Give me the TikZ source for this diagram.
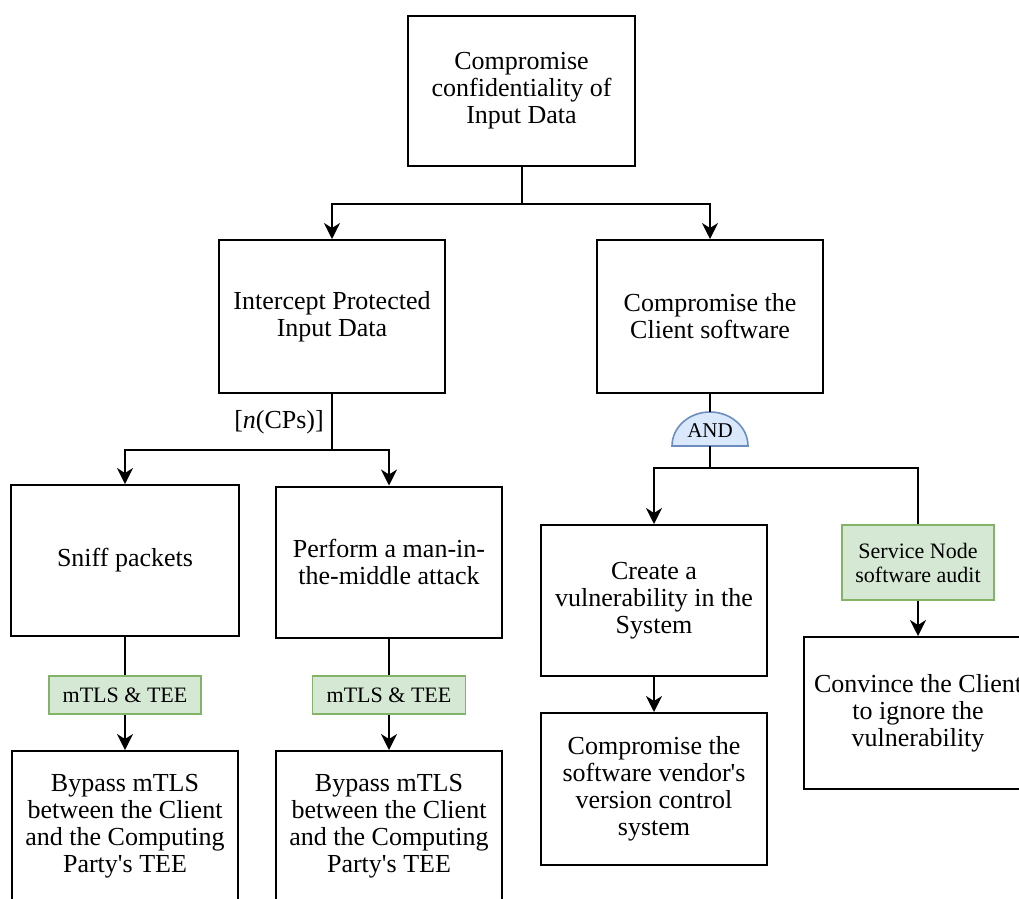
\documentclass[tikz,border=0pt]{standalone}
\usepackage{fontspec}
\setmainfont{Liberation Serif}
\usetikzlibrary{arrows.meta}

\definecolor{greenfill}{HTML}{D5E8D4}
\definecolor{greenline}{HTML}{82B366}
\definecolor{bluefill}{HTML}{DAE8FC}
\definecolor{blueline}{HTML}{6C8EBF}

\newcommand{\mainsz}{\fontsize{26}{27}\selectfont}
\newcommand{\smallsz}{\fontsize{22}{24}\selectfont}

\tikzset{
  goal/.style={draw, line width=2pt, inner sep=0pt, align=center, font=\mainsz,
    minimum width=226pt, minimum height=151pt},
  control/.style={draw=greenline, fill=greenfill, line width=1.6pt, inner sep=0pt,
    align=center, font=\smallsz},
  wire/.style={line width=2pt},
  arr/.style={wire, -{Stealth[length=16pt,width=16pt,inset=5pt]}},
  gate/.style={draw=blueline, fill=bluefill, line width=1.6pt},
}

\begin{document}
\begin{tikzpicture}[x=1pt, y=-1pt]
\useasboundingbox (0,0) rectangle (1019,898);

% goal boxes
\node[goal, minimum width=227pt, minimum height=150pt] (top) at (521.5,91)
  {Compromise\\confidentiality of\\Input Data};
\node[goal, minimum height=153pt] (inter) at (332,316.5)
  {Intercept Protected\\Input Data};
\node[goal, minimum height=153pt] (client) at (710,316.5)
  {Compromise the\\Client software};
\node[goal, minimum width=228pt] (sniff) at (125,560.5) {Sniff packets};
\node[goal] (mitm) at (389,562) {Perform a man-in-\\the-middle attack};
\node[goal] (create) at (654,600.5) {Create a\\vulnerability in the\\System};
\node[goal, minimum height=152pt] (vendor) at (654,789)
  {Compromise the\\software vendor\textquotesingle s\\version control\\system};
\node[goal, minimum width=228pt, minimum height=152pt] (convince) at (918,713)
  {Convince the Client\\to ignore the\\vulnerability};
\node[goal, minimum height=150pt] (bypassA) at (125,826)
  {Bypass mTLS\\between the Client\\and the Computing\\Party\textquotesingle s TEE};
\node[goal, minimum height=150pt] (bypassB) at (389,826)
  {Bypass mTLS\\between the Client\\and the Computing\\Party\textquotesingle s TEE};

% countermeasures
\node[control, minimum width=152pt, minimum height=38pt] (tlsA) at (125,695) {mTLS \& TEE};
\node[control, minimum width=153pt, minimum height=38pt] (tlsB) at (389,695) {mTLS \& TEE};
\node[control, minimum width=152pt, minimum height=75pt] (audit) at (918,562.5)
  {Service Node\\software audit};

% AND gate
\path[gate] (672,446) .. controls (672,427.2) and (689,412) .. (710,412)
  .. controls (731,412) and (748,427.2) .. (748,446) -- cycle;
\node[font=\fontsize{21}{24}\selectfont, inner sep=0pt] (andg) at (710,431) {AND};
\coordinate (andtop) at (710,412);
\coordinate (andbot) at (710,446);

% junctions
\coordinate (j1) at (521.5,204);
\coordinate (j2) at (332,450);
\coordinate (j3) at (710,468);

% connectors
\draw[wire] (top.south) -- (j1);
\draw[arr] (j1) -| (inter.north);
\draw[arr] (j1) -| (client.north);

\draw[wire] (inter.south) -- (j2);
\draw[arr] (j2) -| (sniff.north);
\draw[arr] (j2) -| (mitm.north);
\node[font=\mainsz, anchor=east, inner sep=0pt] (mult) at (324,422) {[{\itshape n}(CPs)]};

\draw[wire] (client.south) -- (andtop);
\draw[wire] (andbot) -- (j3);
\draw[arr] (j3) -| (create.north);
\draw[wire] (j3) -| (audit.north);
\draw[arr] (audit.south) -- (convince.north);
\draw[arr] (create.south) -- (vendor.north);

\draw[wire] (sniff.south) -- (tlsA.north);
\draw[arr] (tlsA.south) -- (bypassA.north);
\draw[wire] (mitm.south) -- (tlsB.north);
\draw[arr] (tlsB.south) -- (bypassB.north);
\end{tikzpicture}
\end{document}
